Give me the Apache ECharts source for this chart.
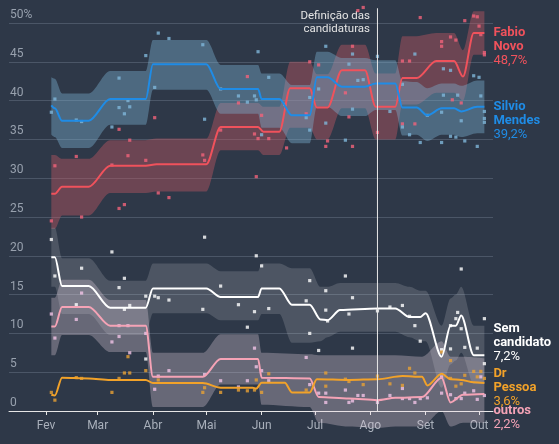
<!DOCTYPE html>
<html>
<head>
<meta charset="utf-8">
<title>Teresina 2024</title>
<script src="https://cdn.jsdelivr.net/npm/echarts@6/dist/echarts.min.js"></script>
<style>
	html, body { margin: 0; height: 100%; background: #2e3848; }
	#main { width: 559px; height: 444px; }
</style>
</head>
<body>
<div id="main"></div>
<script>
	var MESES = ['Jan', 'Fev', 'Mar', 'Abr', 'Mai', 'Jun', 'Jul', 'Ago', 'Set', 'Out', 'Nov', 'Dez'];
	var Y_TICKS = [0, 5, 10, 15, 20, 25, 30, 35, 40, 45, 50];

	// Fabio Novo - tendência + faixa
	var fabioDatas = ['2024-02-04','2024-02-06','2024-02-10','2024-02-25','2024-03-08','2024-03-28','2024-04-03','2024-05-01','2024-05-09','2024-05-30','2024-06-02','2024-06-11','2024-06-17','2024-06-28','2024-07-02','2024-07-08','2024-07-16','2024-07-29','2024-08-04','2024-08-15','2024-08-19','2024-08-27','2024-09-07','2024-09-17','2024-09-22','2024-09-28','2024-10-04'];
	var fabioTend = [28.0,28.0,28.9,28.9,31.6,31.6,31.8,31.8,36.6,36.6,36.0,36.0,41.6,41.6,39.1,39.1,43.9,43.9,39.2,39.2,42.9,42.9,45.1,45.1,43.1,48.7,48.7];
	var fabioMin = [23.5,23.5,25.2,25.2,28.1,28.1,28.3,28.3,33.6,33.6,33.0,33.0,36.5,36.5,35.0,35.0,39.0,39.0,35.0,35.0,39.5,39.5,41.0,41.0,40.0,45.9,45.9];
	var fabioMax = [33.0,33.0,32.5,32.5,34.9,34.9,35.1,35.1,39.7,39.7,39.2,39.2,45.0,45.0,43.4,43.4,47.2,47.2,43.5,43.5,48.3,48.3,48.7,48.7,46.5,51.5,51.5];

	// Silvio Mendes
	var silvioDatas = ['2024-02-04','2024-02-06','2024-02-10','2024-02-25','2024-03-08','2024-03-28','2024-04-01','2024-05-01','2024-05-09','2024-05-30','2024-06-01','2024-06-11','2024-06-18','2024-06-28','2024-07-02','2024-07-08','2024-07-16','2024-07-29','2024-08-04','2024-08-15','2024-08-19','2024-08-27','2024-09-02','2024-09-10','2024-09-17','2024-09-21','2024-09-30','2024-10-04'];
	var silvioTend = [39.4,39.0,37.4,37.4,40.2,40.2,44.7,44.7,41.5,41.5,40.2,40.2,38.1,38.1,43.0,43.0,41.8,41.8,42.2,42.2,39.1,39.1,38.1,39.0,39.0,38.6,39.2,39.2];
	var silvioMin = [35.6,35.3,33.9,33.9,36.9,36.9,41.4,41.4,38.3,38.3,36.5,36.5,34.5,34.5,39.2,39.2,38.0,38.0,38.8,38.8,35.5,35.6,34.8,35.6,35.6,35.3,35.8,35.8];
	var silvioMax = [43.0,42.8,40.9,40.9,43.8,43.8,47.8,47.8,44.6,44.6,43.5,43.5,42.0,42.0,46.3,46.3,45.5,45.5,45.2,45.2,42.5,42.4,41.6,42.2,42.2,41.9,42.6,42.6];

	// Sem candidato
	var semDatas = ['2024-02-04','2024-02-06','2024-02-10','2024-02-25','2024-03-08','2024-03-28','2024-04-01','2024-05-01','2024-05-09','2024-05-30','2024-06-01','2024-06-11','2024-06-18','2024-06-28','2024-07-04','2024-07-08','2024-07-15','2024-08-05','2024-08-15','2024-08-23','2024-08-29','2024-09-01','2024-09-10','2024-09-15','2024-09-18','2024-09-21','2024-09-28','2024-10-04'];
	var semTend = [19.8,19.8,16.1,16.1,13.3,13.3,15.8,15.8,14.7,14.7,15.8,15.8,13.7,13.7,11.8,11.7,13.0,13.2,13.2,12.1,12.1,12.6,7.0,11.0,11.0,12.3,7.2,7.2];
	var semMin = [16.0,16.0,12.5,12.5,9.8,9.8,12.6,12.6,11.7,11.7,12.5,12.5,8.8,8.8,9.0,9.5,10.2,10.2,10.2,9.5,9.0,9.0,3.0,6.0,6.5,7.5,3.5,3.5];
	var semMax = [23.6,23.6,19.7,19.7,16.8,16.8,19.0,19.0,18.0,18.0,19.0,19.0,18.4,18.4,16.0,16.0,16.5,16.5,16.5,16.0,15.5,15.5,11.0,14.5,15.0,16.0,11.0,11.0];

	// outros
	var outrosDatas = ['2024-02-04','2024-02-06','2024-02-10','2024-02-25','2024-03-08','2024-03-28','2024-04-01','2024-04-29','2024-05-09','2024-05-30','2024-06-01','2024-06-28','2024-07-03','2024-07-20','2024-08-05','2024-08-15','2024-08-30','2024-09-10','2024-09-15','2024-09-22','2024-10-04'];
	var outrosTend = [10.9,10.9,13.4,13.4,11.0,11.0,4.4,4.4,6.7,6.7,4.3,4.2,1.8,1.6,1.4,1.7,1.8,4.3,1.1,2.1,2.2];
	var outrosMin = [7.2,7.2,9.8,9.8,7.6,7.6,0.5,0.5,3.4,3.4,0.8,0.5,-1.5,-2.0,-2.2,-2.0,-2.0,0.0,-2.0,-1.5,-1.5];
	var outrosMax = [14.6,14.6,16.9,16.9,14.3,14.3,7.5,7.5,9.9,9.9,7.5,7.3,7.2,7.2,7.2,7.2,7.0,9.0,7.0,7.0,6.8];

	// Dr Pessoa (sem faixa)
	var pessoaDatas = ['2024-02-04','2024-02-06','2024-02-10','2024-02-25','2024-03-08','2024-03-28','2024-04-01','2024-04-29','2024-05-09','2024-05-27','2024-05-29','2024-06-01','2024-06-14','2024-06-18','2024-06-28','2024-07-02','2024-07-20','2024-08-05','2024-08-19','2024-08-30','2024-09-02','2024-09-10','2024-09-15','2024-09-21','2024-09-28','2024-10-04'];
	var pessoaTend = [2.1,2.0,4.3,4.2,4.0,4.0,3.6,3.6,3.0,3.0,2.9,3.65,3.65,2.4,2.4,4.1,4.0,4.1,4.5,4.4,3.3,4.8,4.1,4.0,3.7,3.6];

	// pesquisas (pontos)
	var fabioPesq = [['2024-02-04',24.5],['2024-02-06',31.6],['2024-02-18',32.8],['2024-02-21',25.0],['2024-03-09',31.7],['2024-03-13',36.3],['2024-03-13',26.1],['2024-03-16',26.6],['2024-03-18',32.9],['2024-03-19',34.9],['2024-03-28',32.3],['2024-04-02',37.8],['2024-04-04',28.1],['2024-04-10',27.5],['2024-04-29',33.0],['2024-04-30',32.3],['2024-05-09',36.2],['2024-05-19',39.7],['2024-05-24',43.1],['2024-05-28',35.7],['2024-05-29',30.2],['2024-05-30',35.1],['2024-06-01',38.1],['2024-06-05',35.1],['2024-06-15',33.9],['2024-06-26',38.3],['2024-06-28',45.0],['2024-07-03',44.6],['2024-07-07',34.1],['2024-07-08',34.8],['2024-07-18',41.0],['2024-07-20',37.9],['2024-07-22',47.0],['2024-07-22',34.1],['2024-07-25',51.6],['2024-07-28',52.0],['2024-08-05',35.9],['2024-08-19',45.1],['2024-08-23',45.1],['2024-08-19',37.0],['2024-08-26',37.0],['2024-08-29',50.7],['2024-09-10',47.6],['2024-09-10',47.0],['2024-09-15',48.2],['2024-09-18',47.8],['2024-09-16',40.1],['2024-09-21',39.7],['2024-09-23',50.3],['2024-09-28',50.9],['2024-09-30',50.8],['2024-10-01',49.6],['2024-10-02',48.5],['2024-10-04',46.2],['2024-10-04',45.9]];
	var silvioPesq = [['2024-02-04',38.5],['2024-02-06',40.2],['2024-02-18',37.5],['2024-02-21',37.3],['2024-03-09',36.6],['2024-03-13',42.9],['2024-03-13',39.1],['2024-03-16',38.3],['2024-03-18',40.0],['2024-03-19',39.2],['2024-03-28',45.8],['2024-04-02',41.7],['2024-04-04',48.7],['2024-04-10',48.0],['2024-04-29',47.2],['2024-04-30',37.6],['2024-05-09',41.5],['2024-05-19',40.6],['2024-05-24',39.8],['2024-05-28',40.6],['2024-05-29',40.1],['2024-05-30',46.3],['2024-06-01',35.6],['2024-06-05',43.0],['2024-06-14',39.5],['2024-06-26',37.8],['2024-06-28',40.4],['2024-06-28',36.2],['2024-07-03',41.5],['2024-07-07',47.0],['2024-07-07',37.1],['2024-07-18',34.9],['2024-07-20',44.7],['2024-07-22',46.0],['2024-07-22',38.9],['2024-07-25',42.6],['2024-07-28',42.7],['2024-08-05',45.7],['2024-08-12',38.6],['2024-08-19',42.1],['2024-08-19',36.6],['2024-08-23',35.6],['2024-08-26',46.0],['2024-08-29',34.6],['2024-09-02',38.1],['2024-09-10',38.5],['2024-09-10',34.6],['2024-09-11',44.1],['2024-09-11',40.7],['2024-09-15',43.9],['2024-09-15',35.4],['2024-09-18',35.3],['2024-09-19',40.7],['2024-09-21',37.4],['2024-09-23',34.8],['2024-09-28',43.2],['2024-09-30',34.1],['2024-10-01',43.0],['2024-10-02',40.6],['2024-10-04',38.6],['2024-10-04',37.7],['2024-10-04',37.2]];
	var semPesq = [['2024-02-04',22.1],['2024-02-06',17.4],['2024-02-21',18.4],['2024-02-18',13.7],['2024-03-09',20.5],['2024-03-13',15.9],['2024-03-16',17.1],['2024-03-16',13.1],['2024-03-19',13.6],['2024-03-28',14.8],['2024-03-28',6.7],['2024-04-02',14.8],['2024-04-04',14.6],['2024-04-10',14.3],['2024-04-30',22.4],['2024-04-29',13.1],['2024-05-09',16.1],['2024-05-19',13.7],['2024-05-24',10.8],['2024-05-28',12.8],['2024-05-29',20.0],['2024-06-01',18.7],['2024-06-05',13.2],['2024-06-26',14.2],['2024-06-28',16.8],['2024-06-28',10.0],['2024-07-03',7.8],['2024-07-07',15.5],['2024-07-07',13.0],['2024-07-08',11.6],['2024-07-18',17.4],['2024-07-20',12.5],['2024-07-22',14.6],['2024-07-22',8.1],['2024-08-05',12.9],['2024-08-12',13.4],['2024-08-19',13.6],['2024-08-23',12.2],['2024-08-26',11.0],['2024-08-29',9.0],['2024-09-10',7.9],['2024-09-15',8.0],['2024-09-15',11.0],['2024-09-18',11.9],['2024-09-19',12.7],['2024-09-21',18.3],['2024-09-21',10.6],['2024-09-23',8.2],['2024-09-30',8.1],['2024-10-04',11.9],['2024-10-04',6.1]];
	var outrosPesq = [['2024-02-04',12.5],['2024-02-06',9.4],['2024-02-18',11.8],['2024-02-21',15.2],['2024-03-09',8.9],['2024-03-13',11.0],['2024-03-13',9.6],['2024-03-18',11.0],['2024-03-19',7.5],['2024-03-28',10.0],['2024-04-02',2.8],['2024-04-04',4.5],['2024-04-10',5.2],['2024-04-30',4.7],['2024-05-09',3.9],['2024-05-19',3.1],['2024-05-24',3.9],['2024-05-28',8.1],['2024-05-29',5.7],['2024-06-01',5.2],['2024-06-05',3.9],['2024-06-26',6.9],['2024-06-28',3.4],['2024-07-03',2.3],['2024-07-07',2.3],['2024-07-07',1.1],['2024-07-18',2.7],['2024-07-20',1.1],['2024-07-22',1.3],['2024-07-25',2.0],['2024-07-28',2.0],['2024-08-05',1.1],['2024-08-12',2.0],['2024-08-19',2.9],['2024-08-19',1.6],['2024-08-23',1.6],['2024-08-26',1.1],['2024-08-29',1.6],['2024-09-02',1.7],['2024-09-10',2.3],['2024-09-10',4.4],['2024-09-15',2.1],['2024-09-18',1.6],['2024-09-21',1.6],['2024-09-23',2.3],['2024-09-28',2.6],['2024-09-30',1.5],['2024-10-02',4.4],['2024-10-04',2.0]];
	var pessoaPesq = [['2024-02-04',2.4],['2024-02-06',1.4],['2024-02-18',4.3],['2024-02-21',4.2],['2024-03-09',2.4],['2024-03-13',4.2],['2024-03-16',4.9],['2024-03-18',7.0],['2024-03-19',4.9],['2024-03-28',5.2],['2024-04-04',4.0],['2024-04-29',2.4],['2024-04-30',3.0],['2024-05-09',2.4],['2024-05-19',2.7],['2024-05-24',2.6],['2024-05-28',2.7],['2024-05-29',4.0],['2024-06-01',2.4],['2024-06-05',4.8],['2024-06-26',2.7],['2024-07-07',4.9],['2024-07-07',3.2],['2024-07-18',4.1],['2024-07-20',3.8],['2024-07-28',3.4],['2024-08-05',4.5],['2024-08-12',3.5],['2024-08-19',3.3],['2024-08-23',5.5],['2024-08-26',4.9],['2024-09-10',7.6],['2024-09-15',6.5],['2024-09-15',4.2],['2024-09-18',3.2],['2024-09-21',3.5],['2024-09-23',4.6],['2024-09-28',5.1],['2024-09-30',4.4],['2024-10-02',5.1],['2024-10-04',4.2]];

	// definição das candidaturas: data e altura da linha
	var DEFINICAO = ['2024-08-05', '2024-08-05'];
	var DEFINICAO_Y = [0, 51.9];

	var candidatos = [
		{ nome: 'Fabio\nNovo', datas: fabioDatas, tend: fabioTend, min: fabioMin, max: fabioMax, pesq: fabioPesq,
		  cor: '#f0525c', faixa: 'rgba(196,88,100,0.42)', ponto: '#f2637a', dy: 14 },
		{ nome: 'Silvio\nMendes', datas: silvioDatas, tend: silvioTend, min: silvioMin, max: silvioMax, pesq: silvioPesq,
		  cor: '#1f8ce6', faixa: 'rgba(126,181,212,0.4)', ponto: '#7fb6da', dy: 14 },
		{ nome: 'Sem\ncandidato', datas: semDatas, tend: semTend, min: semMin, max: semMax, pesq: semPesq,
		  cor: '#ffffff', faixa: 'rgba(255,255,255,0.15)', ponto: '#ffffff', dy: -12 },
		{ nome: 'outros', datas: outrosDatas, tend: outrosTend, min: outrosMin, max: outrosMax, pesq: outrosPesq,
		  cor: '#f5a3b6', faixa: 'rgba(235,215,230,0.3)', ponto: '#f1c3e6', dy: 24 },
		{ nome: 'Dr\nPessoa', datas: pessoaDatas, tend: pessoaTend, pesq: pessoaPesq,
		  cor: '#f2a229', ponto: '#e8a134', dy: 5 }
	];

	var series = [];
	// faixas
	candidatos.forEach(function (c, k) {
		if (!c.min) return;
		series.push({
			type: 'line', stack: 'faixa' + k, stackStrategy: 'all', silent: true, clip: false,
			symbol: 'none', smooth: 0.3, smoothMonotone: 'x', z: 1, lineStyle: { opacity: 0 },
			data: c.datas.map(function (d, i) { return [d, c.min[i]]; })
		});
		series.push({
			type: 'line', stack: 'faixa' + k, stackStrategy: 'all', silent: true, clip: false,
			symbol: 'none', smooth: 0.3, smoothMonotone: 'x', z: 1, lineStyle: { opacity: 0 },
			areaStyle: { color: c.faixa, opacity: 1 },
			data: c.datas.map(function (d, i) { return [d, c.max[i] - c.min[i]]; })
		});
	});
	// pontos
	candidatos.forEach(function (c) {
		series.push({
			type: 'scatter', silent: true, clip: false, z: 2,
			symbol: 'rect', symbolSize: 3.2,
			itemStyle: { color: c.ponto },
			data: c.pesq
		});
	});
	// linha vertical da definição
	series.push({
		type: 'line', silent: true, clip: false, z: 4, symbol: 'none',
		lineStyle: { color: '#e8e8e8', width: 1 },
		data: DEFINICAO.map(function (d, i) { return [d, DEFINICAO_Y[i]]; })
	});
	// tendências
	candidatos.forEach(function (c) {
		series.push({
			type: 'line', silent: true, clip: false, z: 3,
			symbol: 'none', smooth: 0.3, smoothMonotone: 'x',
			lineStyle: { color: c.cor, width: 2 },
			data: c.datas.map(function (d, i) { return [d, c.tend[i]]; }),
			endLabel: {
				show: true, distance: 9, offset: [0, c.dy], align: 'left', verticalAlign: 'middle',
				formatter: function (p) {
					var v = p.value[1].toFixed(1).replace('.', ',') + '%';
					var linhas = c.nome.split('\n').map(function (t) { return '{n|' + t + '}'; });
					return linhas.join('\n') + '\n{v|' + v + '}';
				},
				rich: {
					n: { fontFamily: 'Roboto', fontSize: 13, fontWeight: 'bold', color: c.cor, lineHeight: 14 },
					v: { fontFamily: 'Roboto', fontSize: 13, color: c.cor, lineHeight: 14 }
				}
			}
		});
	});

	var myChart = echarts.init(document.getElementById('main'));
	myChart.setOption({
		backgroundColor: '#2e3848',
		animation: false,
		textStyle: { fontFamily: 'Roboto' },
		grid: { left: 9, right: 66, top: 23, bottom: 33 },
		xAxis: {
			type: 'time',
			min: +new Date(2024, 0, 11, 6),
			max: +new Date(2024, 9, 8, 20),
			splitNumber: 9,
			minInterval: 28 * 86400000,
			splitLine: { show: false },
			axisLine: { lineStyle: { color: '#e6e6e6', width: 1 } },
			axisTick: { show: true, length: 4, lineStyle: { color: '#e6e6e6' } },
			axisLabel: {
				color: '#a9b0bb', fontSize: 12, margin: 9,
				showMinLabel: false, showMaxLabel: false,
				formatter: function (v) { return MESES[new Date(v).getMonth()]; }
			}
		},
		yAxis: {
			type: 'value', min: 0, max: 50, interval: 5,
			axisLine: { show: false }, axisTick: { show: false },
			splitLine: { lineStyle: { color: '#4b5667', width: 1 } },
			axisLabel: {
				inside: true, margin: 1, verticalAlign: 'bottom', padding: [0, 0, 2, 0],
				color: '#98a1ae', fontSize: 12,
				formatter: function (v) { return v === Y_TICKS[Y_TICKS.length - 1] ? v + '%' : String(v); }
			}
		},
		graphic: [{
			type: 'text', x: 370, y: 10, silent: true,
			style: {
				text: 'Definição das\ncandidaturas', align: 'right', verticalAlign: 'top',
				fill: '#e4e4e4', font: '11.5px Roboto', lineHeight: 13
			}
		}],
		series: series
	});
</script>
</body>
</html>
